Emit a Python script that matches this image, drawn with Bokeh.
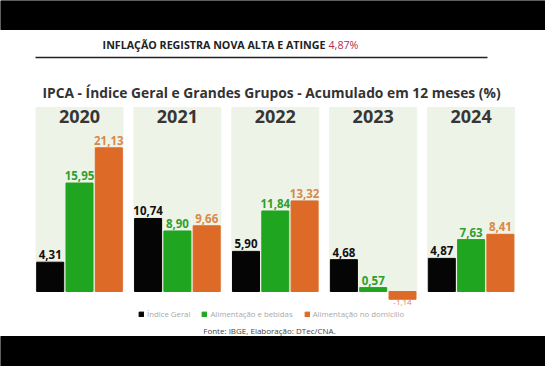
from bokeh.plotting import figure
from bokeh.models import Range1d, ColumnDataSource, Legend, LegendItem
from bokeh.transform import dodge
from bokeh.core.properties import value
from bokeh.embed import file_html
from bokeh.resources import INLINE

# ---- data ----
years = ["2020", "2021", "2022", "2023", "2024"]
indice_geral = [4.31, 10.74, 5.90, 4.68, 4.87]
alim_bebidas = [15.95, 8.90, 11.84, 0.57, 7.63]
alim_domicilio = [21.13, 9.66, 13.32, -1.14, 8.41]
series_names = ["Índice Geral", "Alimentação e bebidas", "Alimentação no domicílio"]
header_text = "INFLAÇÃO REGISTRA NOVA ALTA E ATINGE"
header_value = "4,87%"
title_text = "IPCA - Índice Geral e Grandes Grupos - Acumulado em 12 meses (%)"
source_text = "Fonte: IBGE, Elaboração: DTec/CNA."

# ---- styles ----
bar_colors = ["#050505", "#1fa51f", "#dd6a26"]
label_colors = ["#111111", "#2fa02f", "#d9894a"]
panel_color = "#eef3e8"
FONT = value("Open Sans")

W, H = 545, 366
PX_PER_UNIT = 6.8
BASE_Y = 291      # screen y of value 0
PITCH = 97.9      # px between year groups
X0 = 79           # screen x of first group

p = figure(width=W, height=H, output_backend="svg", toolbar_location=None,
           min_border=0, min_border_left=0, min_border_right=0,
           min_border_top=0, min_border_bottom=0)
p.x_range = Range1d(-X0 / PITCH, -X0 / PITCH + W / PITCH)
p.y_range = Range1d(-(H - BASE_Y) / PX_PER_UNIT, BASE_Y / PX_PER_UNIT)
p.extra_x_ranges = {"px": Range1d(0, W)}
p.extra_y_ranges = {"px": Range1d(H, 0)}
p.axis.visible = False
p.grid.visible = False
p.outline_line_color = None
p.background_fill_color = "white"
p.border_fill_color = "white"

# black video bands
p.quad(left=[0, 0], right=[W, W], top=[0, 336], bottom=[29, H],
       x_range_name="px", y_range_name="px", color="black")

# header
p.text(x=[325], y=[44], text=[header_text], x_range_name="px", y_range_name="px",
       text_font=FONT, text_font_style="bold", text_font_size="10.7px",
       text_color="#222222", text_align="right", text_baseline="middle")
p.text(x=[328], y=[44], text=[header_value], x_range_name="px", y_range_name="px",
       text_font=FONT, text_font_size="10.7px",
       text_color="#b0304e", text_align="left", text_baseline="middle")
p.segment(x0=[35], x1=[487], y0=[57], y1=[57], x_range_name="px", y_range_name="px",
          line_color="#222222", line_width=1.5)

# title
p.text(x=[271], y=[92], text=[title_text], x_range_name="px", y_range_name="px",
       text_font=FONT, text_font_style="bold", text_font_size="13.8px",
       text_color="#333333", text_align="center", text_baseline="middle")

idx = list(range(len(years)))
src = ColumnDataSource(dict(
    x=idx, years=years,
    s0=indice_geral, s1=alim_bebidas, s2=alim_domicilio,
))

# panels
panel_top = (BASE_Y - 107) / PX_PER_UNIT
p.vbar(x="x", width=87 / PITCH, top=panel_top, bottom=0, source=src,
       color=panel_color)

# year labels
p.text(x="x", y=(BASE_Y - 116) / PX_PER_UNIT, text="years", source=src,
       text_font=FONT, text_font_style="bold", text_font_size="18px",
       text_color="#363636", text_align="center", text_baseline="middle")

offset = 29.3 / PITCH
bw = 27 / PITCH
renderers = []
for i, key in enumerate(["s0", "s1", "s2"]):
    off = (i - 1) * offset
    r = p.vbar(x=dodge("x", off, range=p.x_range), width=bw, top=key, bottom=0,
               source=src, color=bar_colors[i])
    renderers.append(r)
    vals = [indice_geral, alim_bebidas, alim_domicilio][i]
    pos = ColumnDataSource(dict(
        x=[j + off for j, v in enumerate(vals) if v >= 0],
        y=[v for v in vals if v >= 0],
        t=[f"{v:.2f}".replace(".", ",") for v in vals if v >= 0]))
    neg = ColumnDataSource(dict(
        x=[j + off for j, v in enumerate(vals) if v < 0],
        y=[v for v in vals if v < 0],
        t=[f"{v:.2f}".replace(".", ",") for v in vals if v < 0]))
    p.text(x="x", y="y", text="t", source=pos, y_offset=-3,
           text_font=FONT, text_font_style="bold", text_font_size="11.5px",
           text_color=label_colors[i], text_align="center", text_baseline="bottom")
    p.text(x="x", y="y", text="t", source=neg, y_offset=1,
           text_font=FONT, text_font_size="8px",
           text_color=label_colors[i], text_align="center", text_baseline="top")

legend = Legend(items=[LegendItem(label=series_names[i], renderers=[renderers[i]])
                       for i in range(3)],
                orientation="horizontal", location=(138, 47),
                label_text_font="Open Sans", label_text_font_size="7.8px",
                label_text_color="#a8a8a8", glyph_width=6, glyph_height=6,
                label_standoff=3, spacing=11, padding=0, margin=0,
                label_height=10,
                border_line_color=None, background_fill_alpha=0)
p.add_layout(legend)

p.text(x=[269], y=[330], text=[source_text], x_range_name="px", y_range_name="px",
       text_font=FONT, text_font_size="8px",
       text_color="#444444", text_align="center", text_baseline="middle")

open("out.html", "w").write(file_html(p, INLINE))
